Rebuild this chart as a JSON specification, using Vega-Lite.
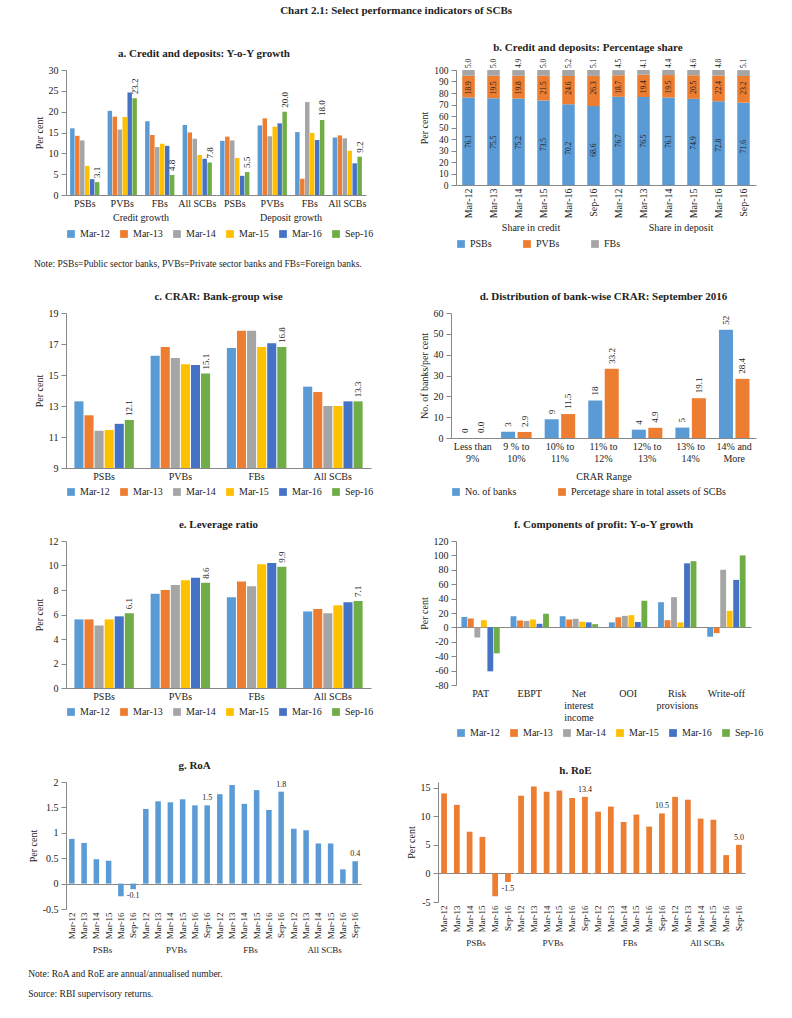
{
  "$schema": "https://vega.github.io/schema/vega-lite/v6.json",
  "padding": {"left": 28, "top": 4, "right": 5, "bottom": 5},
  "background": "white",
  "title": {"text": "Chart 2.1: Select performance indicators of SCBs", "anchor": "middle", "fontSize": 11, "offset": 26},
  "spacing": 22,
  "resolve": {"scale": {"color": "independent", "x": "independent", "y": "independent", "xOffset": "independent"}, "legend": {"color": "independent"}},
  "config": {
    "locale": {"number": {"decimal": ".", "thousands": ",", "grouping": [3], "currency": ["$", ""], "minus": "-"}},
    "font": "Liberation Serif",
    "view": {"stroke": null},
    "axis": {"labelFontSize": 10, "titleFontSize": 10, "titleFontWeight": "normal", "grid": false, "domainColor": "#888888", "tickColor": "#888888", "labelColor": "#222222", "titleColor": "#222222", "labelPadding": 3},
    "legend": {"orient": "bottom", "direction": "horizontal", "title": null, "labelFontSize": 10, "symbolType": "square", "symbolSize": 60, "symbolStrokeWidth": 0, "columnPadding": 9, "padding": 0, "offset": 6, "labelColor": "#222222"},
    "title": {"fontSize": 11, "fontWeight": "bold", "color": "#222222", "offset": 6, "anchor": "middle"},
    "header": {"labelFontSize": 10, "labelColor": "#222222", "labelPadding": 3}
  },
  "vconcat": [
    {
      "title": {"text": "Note: PSBs=Public sector banks, PVBs=Private sector banks and FBs=Foreign banks.", "orient": "bottom", "anchor": "start", "fontSize": 9.5, "fontWeight": "normal", "offset": 10},
      "spacing": 45,
      "resolve": {"scale": {"color": "independent", "x": "independent", "y": "independent", "xOffset": "independent"}, "legend": {"color": "independent"}},
      "hconcat": [
        {
          "title": "a. Credit and deposits: Y-o-Y growth",
          "data": {"name": "growth"},
          "facet": {"column": {"field": "group", "type": "nominal", "sort": ["Credit growth", "Deposit growth"], "header": {"title": null, "labelOrient": "bottom", "labelPadding": 5}}},
          "spacing": {"column": 0},
          "spec": {
            "width": 150,
            "height": 125,
            "encoding": {
              "x": {"field": "bank", "type": "nominal", "sort": ["PSBs", "PVBs", "FBs", "All SCBs"], "scale": {"paddingInner": 0.22, "paddingOuter": 0.11}, "axis": {"title": null, "labelAngle": 0, "ticks": false}},
              "xOffset": {"field": "period", "type": "nominal", "sort": ["Mar-12", "Mar-13", "Mar-14", "Mar-15", "Mar-16", "Sep-16"], "scale": {"domain": ["Mar-12", "Mar-13", "Mar-14", "Mar-15", "Mar-16", "Sep-16"], "paddingInner": 0.1}},
              "y": {"field": "value", "type": "quantitative", "scale": {"domain": [0, 30], "nice": false}, "axis": {"title": "Per cent", "values": [0, 5, 10, 15, 20, 25, 30]}}
            },
            "layer": [
              {"mark": "bar", "encoding": {"color": {"field": "period", "type": "nominal", "sort": ["Mar-12", "Mar-13", "Mar-14", "Mar-15", "Mar-16", "Sep-16"], "scale": {"domain": ["Mar-12", "Mar-13", "Mar-14", "Mar-15", "Mar-16", "Sep-16"], "range": ["#5B9BD5", "#ED7D31", "#A5A5A5", "#FFC000", "#4472C4", "#70AD47"]}}}},
              {"transform": [{"filter": "datum.period == 'Sep-16'"}], "mark": {"type": "text", "angle": 270, "align": "left", "baseline": "middle", "dx": 4, "fontSize": 9, "color": "#222222"}, "encoding": {"text": {"field": "value", "type": "quantitative", "format": ".1f"}}}
            ]
          }
        },
        {
          "title": "b. Credit and deposits: Percentage share",
          "data": {"name": "share"},
          "transform": [{"stack": "value", "groupby": ["group", "period"], "as": ["v0", "v1"]}],
          "facet": {"column": {"field": "group", "type": "nominal", "sort": ["Share in credit", "Share in deposit"], "header": {"title": null, "labelOrient": "bottom", "labelPadding": 5}}},
          "spacing": {"column": 0},
          "spec": {
            "width": 150,
            "height": 115,
            "encoding": {
              "x": {"field": "period", "type": "nominal", "sort": ["Mar-12", "Mar-13", "Mar-14", "Mar-15", "Mar-16", "Sep-16"], "scale": {"paddingInner": 0.5, "paddingOuter": 0.25}, "axis": {"title": null, "labelAngle": -90, "ticks": false}}
            },
            "layer": [
              {"mark": "bar", "encoding": {
                "y": {"field": "v0", "type": "quantitative", "scale": {"domain": [0, 100], "nice": false}, "axis": {"title": "Per cent", "values": [0, 10, 20, 30, 40, 50, 60, 70, 80, 90, 100], "labelOverlap": false, "labelFontSize": 9.5}},
                "y2": {"field": "v1"},
                "color": {"field": "bank", "type": "nominal", "sort": ["PSBs", "PVBs", "FBs"], "scale": {"domain": ["PSBs", "PVBs", "FBs"], "range": ["#5B9BD5", "#ED7D31", "#A5A5A5"]}, "legend": {"columnPadding": 30}}
              }},
              {"transform": [{"filter": "datum.bank == 'PSBs'"}], "mark": {"type": "text", "angle": 270, "align": "center", "baseline": "middle", "dx": -44, "fontSize": 7.5, "color": "#222222"}, "encoding": {"y": {"field": "v1", "type": "quantitative", "axis": {"title": "Per cent", "values": [0, 10, 20, 30, 40, 50, 60, 70, 80, 90, 100], "labelOverlap": false, "labelFontSize": 9.5}}, "text": {"field": "value", "type": "quantitative", "format": ".1f"}}},
              {"transform": [{"filter": "datum.bank == 'PVBs'"}], "mark": {"type": "text", "angle": 270, "align": "center", "baseline": "middle", "dx": -12, "fontSize": 7.5, "color": "#222222"}, "encoding": {"y": {"field": "v1", "type": "quantitative", "axis": {"title": "Per cent", "values": [0, 10, 20, 30, 40, 50, 60, 70, 80, 90, 100], "labelOverlap": false, "labelFontSize": 9.5}}, "text": {"field": "value", "type": "quantitative", "format": ".1f"}}},
              {"transform": [{"filter": "datum.bank == 'FBs'"}], "mark": {"type": "text", "angle": 270, "align": "left", "baseline": "middle", "dx": 2, "fontSize": 7.5, "color": "#222222"}, "encoding": {"y": {"field": "v1", "type": "quantitative", "axis": {"title": "Per cent", "values": [0, 10, 20, 30, 40, 50, 60, 70, 80, 90, 100], "labelOverlap": false, "labelFontSize": 9.5}}, "text": {"field": "value", "type": "quantitative", "format": ".1f"}}}
            ]
          }
        }
      ]
    },
    {
      "spacing": 45,
      "resolve": {"scale": {"color": "independent", "x": "independent", "y": "independent", "xOffset": "independent"}, "legend": {"color": "independent"}},
      "hconcat": [
        {
          "title": "c. CRAR: Bank-group wise",
          "data": {"name": "crar"},
          "width": 305,
          "height": 155,
          "encoding": {
            "x": {"field": "bank", "type": "nominal", "sort": ["PSBs", "PVBs", "FBs", "All SCBs"], "scale": {"paddingInner": 0.22, "paddingOuter": 0.11}, "axis": {"title": null, "labelAngle": 0, "ticks": false}},
            "xOffset": {"field": "period", "type": "nominal", "sort": ["Mar-12", "Mar-13", "Mar-14", "Mar-15", "Mar-16", "Sep-16"], "scale": {"domain": ["Mar-12", "Mar-13", "Mar-14", "Mar-15", "Mar-16", "Sep-16"], "paddingInner": 0.1}},
            "y": {"field": "value", "type": "quantitative", "scale": {"domain": [9, 19], "nice": false, "zero": false}, "axis": {"title": "Per cent", "values": [9, 11, 13, 15, 17, 19]}}
          },
          "layer": [
            {"mark": {"type": "bar", "clip": true}, "encoding": {"y2": {"datum": 9}, "color": {"field": "period", "type": "nominal", "sort": ["Mar-12", "Mar-13", "Mar-14", "Mar-15", "Mar-16", "Sep-16"], "scale": {"domain": ["Mar-12", "Mar-13", "Mar-14", "Mar-15", "Mar-16", "Sep-16"], "range": ["#5B9BD5", "#ED7D31", "#A5A5A5", "#FFC000", "#4472C4", "#70AD47"]}}}},
            {"transform": [{"filter": "datum.period == 'Sep-16'"}], "mark": {"type": "text", "angle": 270, "align": "left", "baseline": "middle", "dx": 4, "fontSize": 9, "color": "#222222"}, "encoding": {"text": {"field": "value", "type": "quantitative", "format": ".1f"}}}
          ]
        },
        {
          "title": "d. Distribution of bank-wise CRAR: September 2016",
          "data": {"name": "dist"},
          "width": 305,
          "height": 125,
          "encoding": {
            "x": {"field": "range", "type": "nominal", "sort": ["Less than 9%", "9 % to 10%", "10% to 11%", "11% to 12%", "12% to 13%", "13% to 14%", "14% and More"], "scale": {"paddingInner": 0.3, "paddingOuter": 0.15}, "axis": {"title": "CRAR Range", "titlePadding": 8, "labelAngle": 0, "ticks": false, "labelExpr": "[slice(datum.label, 0, lastindexof(datum.label, ' ')), slice(datum.label, lastindexof(datum.label, ' ') + 1)]", "labelLineHeight": 12}},
            "xOffset": {"field": "series", "type": "nominal", "sort": ["No. of banks", "Percetage share in total assets of SCBs"], "scale": {"domain": ["No. of banks", "Percetage share in total assets of SCBs"], "paddingInner": 0.15}},
            "y": {"field": "value", "type": "quantitative", "scale": {"domain": [0, 60], "nice": false}, "axis": {"title": "No. of banks/per cent", "values": [0, 10, 20, 30, 40, 50, 60]}}
          },
          "layer": [
            {"mark": "bar", "encoding": {"color": {"field": "series", "type": "nominal", "sort": ["No. of banks", "Percetage share in total assets of SCBs"], "scale": {"domain": ["No. of banks", "Percetage share in total assets of SCBs"], "range": ["#5B9BD5", "#ED7D31"]}, "legend": {"columnPadding": 40}}}},
            {"transform": [{"filter": "datum.series == 'No. of banks'"}], "mark": {"type": "text", "angle": 270, "align": "left", "baseline": "middle", "dx": 5, "fontSize": 9, "color": "#222222"}, "encoding": {"text": {"field": "value", "type": "quantitative", "format": "d"}}},
            {"transform": [{"filter": "datum.series != 'No. of banks'"}], "mark": {"type": "text", "angle": 270, "align": "left", "baseline": "middle", "dx": 5, "fontSize": 9, "color": "#222222"}, "encoding": {"text": {"field": "value", "type": "quantitative", "format": ".1f"}}}
          ]
        }
      ]
    },
    {
      "spacing": 45,
      "resolve": {"scale": {"color": "independent", "x": "independent", "y": "independent", "xOffset": "independent"}, "legend": {"color": "independent"}},
      "hconcat": [
        {
          "title": "e. Leverage ratio",
          "data": {"name": "lev"},
          "width": 305,
          "height": 147,
          "encoding": {
            "x": {"field": "bank", "type": "nominal", "sort": ["PSBs", "PVBs", "FBs", "All SCBs"], "scale": {"paddingInner": 0.22, "paddingOuter": 0.11}, "axis": {"title": null, "labelAngle": 0, "ticks": false}},
            "xOffset": {"field": "period", "type": "nominal", "sort": ["Mar-12", "Mar-13", "Mar-14", "Mar-15", "Mar-16", "Sep-16"], "scale": {"domain": ["Mar-12", "Mar-13", "Mar-14", "Mar-15", "Mar-16", "Sep-16"], "paddingInner": 0.1}},
            "y": {"field": "value", "type": "quantitative", "scale": {"domain": [0, 12], "nice": false}, "axis": {"title": "Per cent", "values": [0, 2, 4, 6, 8, 10, 12]}}
          },
          "layer": [
            {"mark": "bar", "encoding": {"color": {"field": "period", "type": "nominal", "sort": ["Mar-12", "Mar-13", "Mar-14", "Mar-15", "Mar-16", "Sep-16"], "scale": {"domain": ["Mar-12", "Mar-13", "Mar-14", "Mar-15", "Mar-16", "Sep-16"], "range": ["#5B9BD5", "#ED7D31", "#A5A5A5", "#FFC000", "#4472C4", "#70AD47"]}}}},
            {"transform": [{"filter": "datum.period == 'Sep-16'"}], "mark": {"type": "text", "angle": 270, "align": "left", "baseline": "middle", "dx": 4, "fontSize": 9, "color": "#222222"}, "encoding": {"text": {"field": "value", "type": "quantitative", "format": ".1f"}}}
          ]
        },
        {
          "title": "f. Components of profit: Y-o-Y growth",
          "data": {"name": "profit"},
          "width": 295,
          "height": 144,
          "encoding": {
            "x": {"field": "component", "type": "nominal", "sort": ["PAT", "EBPT", "Net interest income", "OOI", "Risk provisions", "Write-off"], "scale": {"paddingInner": 0.22, "paddingOuter": 0.11}, "axis": {"title": null, "labelAngle": 0, "ticks": false, "domain": false, "labelExpr": "split(datum.label, ' ')", "labelLineHeight": 12}},
            "xOffset": {"field": "period", "type": "nominal", "sort": ["Mar-12", "Mar-13", "Mar-14", "Mar-15", "Mar-16", "Sep-16"], "scale": {"domain": ["Mar-12", "Mar-13", "Mar-14", "Mar-15", "Mar-16", "Sep-16"], "paddingInner": 0.1}},
            "y": {"field": "value", "type": "quantitative", "scale": {"domain": [-80, 120], "nice": false}, "axis": {"title": "Per cent", "values": [-80, -60, -40, -20, 0, 20, 40, 60, 80, 100, 120], "labelExpr": "datum.value < 0 ? '-' + format(-datum.value, '~g') : format(datum.value, '~g')", "grid": true, "gridColor": "#888888", "gridOpacity": {"condition": {"test": "datum.value === 0", "value": 1}, "value": 0}}}
          },
          "layer": [
            {"mark": "bar", "encoding": {"color": {"field": "period", "type": "nominal", "sort": ["Mar-12", "Mar-13", "Mar-14", "Mar-15", "Mar-16", "Sep-16"], "scale": {"domain": ["Mar-12", "Mar-13", "Mar-14", "Mar-15", "Mar-16", "Sep-16"], "range": ["#5B9BD5", "#ED7D31", "#A5A5A5", "#FFC000", "#4472C4", "#70AD47"]}}}}
          ]
        }
      ]
    },
    {
      "title": {"text": ["Note: RoA and RoE are annual/annualised number.", "Source: RBI supervisory returns."], "orient": "bottom", "anchor": "start", "fontSize": 9.5, "fontWeight": "normal", "offset": 14, "lineHeight": 20},
      "spacing": 45,
      "resolve": {"scale": {"color": "independent", "x": "independent", "y": "independent", "xOffset": "independent"}, "legend": {"color": "independent"}},
      "hconcat": [
        {
          "title": "g. RoA",
          "data": {"name": "roa"},
          "facet": {"column": {"field": "group", "type": "nominal", "sort": ["PSBs", "PVBs", "FBs", "All SCBs"], "header": {"title": null, "labelOrient": "bottom", "labelFontSize": 9, "labelPadding": 7}}},
          "spacing": {"column": 0},
          "spec": {
            "width": 73,
            "height": 127,
            "encoding": {
              "x": {"field": "period", "type": "nominal", "sort": ["Mar-12", "Mar-13", "Mar-14", "Mar-15", "Mar-16", "Sep-16"], "scale": {"paddingInner": 0.55, "paddingOuter": 0.25}, "axis": {"title": null, "labelAngle": -90, "ticks": false, "domain": false, "labelFontSize": 9}},
              "y": {"field": "value", "type": "quantitative", "scale": {"domain": [-0.5, 2], "nice": false}, "axis": {"title": "Per cent", "values": [-0.5, 0, 0.5, 1, 1.5, 2], "labelExpr": "datum.value < 0 ? '-' + format(-datum.value, '~g') : format(datum.value, '~g')", "grid": true, "gridColor": "#888888", "gridOpacity": {"condition": {"test": "datum.value === 0", "value": 1}, "value": 0}}}
            },
            "layer": [
              {"mark": {"type": "bar", "color": "#5B9BD5"}},
              {"transform": [{"filter": "datum.period == 'Sep-16' && datum.value >= 0"}], "mark": {"type": "text", "align": "center", "baseline": "bottom", "dy": -3, "fontSize": 8, "color": "#222222"}, "encoding": {"text": {"field": "value", "type": "quantitative", "format": ".1f"}}},
              {"transform": [{"filter": "datum.period == 'Sep-16' && datum.value < 0"}], "mark": {"type": "text", "align": "center", "baseline": "top", "dy": 3, "fontSize": 8, "color": "#222222"}, "encoding": {"text": {"field": "value", "type": "quantitative", "format": ".1f"}}}
            ]
          }
        },
        {
          "title": "h. RoE",
          "data": {"name": "roe"},
          "facet": {"column": {"field": "group", "type": "nominal", "sort": ["PSBs", "PVBs", "FBs", "All SCBs"], "header": {"title": null, "labelOrient": "bottom", "labelFontSize": 9, "labelPadding": 7}}},
          "spacing": {"column": 0},
          "spec": {
            "width": 76,
            "height": 120,
            "encoding": {
              "x": {"field": "period", "type": "nominal", "sort": ["Mar-12", "Mar-13", "Mar-14", "Mar-15", "Mar-16", "Sep-16"], "scale": {"paddingInner": 0.55, "paddingOuter": 0.25}, "axis": {"title": null, "labelAngle": -90, "ticks": false, "domain": false, "labelFontSize": 9}},
              "y": {"field": "value", "type": "quantitative", "scale": {"domain": [-5, 16], "nice": false}, "axis": {"title": "Per cent", "values": [-5, 0, 5, 10, 15], "labelExpr": "datum.value < 0 ? '-' + format(-datum.value, '~g') : format(datum.value, '~g')", "grid": true, "gridColor": "#888888", "gridOpacity": {"condition": {"test": "datum.value === 0", "value": 1}, "value": 0}}}
            },
            "layer": [
              {"mark": {"type": "bar", "color": "#ED7D31"}},
              {"transform": [{"filter": "datum.period == 'Sep-16' && datum.value >= 0"}], "mark": {"type": "text", "align": "center", "baseline": "bottom", "dy": -3, "fontSize": 8, "color": "#222222"}, "encoding": {"text": {"field": "value", "type": "quantitative", "format": ".1f"}}},
              {"transform": [{"filter": "datum.period == 'Sep-16' && datum.value < 0"}], "mark": {"type": "text", "align": "center", "baseline": "top", "dy": 3, "fontSize": 8, "color": "#222222"}, "encoding": {"text": {"field": "value", "type": "quantitative", "format": ".1f"}}}
            ]
          }
        }
      ]
    }
  ],
  "datasets": {
    "growth": [
      {"group": "Credit growth", "bank": "PSBs", "period": "Mar-12", "value": 16.0},
      {"group": "Credit growth", "bank": "PSBs", "period": "Mar-13", "value": 14.2},
      {"group": "Credit growth", "bank": "PSBs", "period": "Mar-14", "value": 13.1},
      {"group": "Credit growth", "bank": "PSBs", "period": "Mar-15", "value": 7.0},
      {"group": "Credit growth", "bank": "PSBs", "period": "Mar-16", "value": 3.8},
      {"group": "Credit growth", "bank": "PSBs", "period": "Sep-16", "value": 3.1},
      {"group": "Credit growth", "bank": "PVBs", "period": "Mar-12", "value": 20.2},
      {"group": "Credit growth", "bank": "PVBs", "period": "Mar-13", "value": 18.8},
      {"group": "Credit growth", "bank": "PVBs", "period": "Mar-14", "value": 15.7},
      {"group": "Credit growth", "bank": "PVBs", "period": "Mar-15", "value": 18.7},
      {"group": "Credit growth", "bank": "PVBs", "period": "Mar-16", "value": 24.6},
      {"group": "Credit growth", "bank": "PVBs", "period": "Sep-16", "value": 23.2},
      {"group": "Credit growth", "bank": "FBs", "period": "Mar-12", "value": 17.7},
      {"group": "Credit growth", "bank": "FBs", "period": "Mar-13", "value": 14.4},
      {"group": "Credit growth", "bank": "FBs", "period": "Mar-14", "value": 11.5},
      {"group": "Credit growth", "bank": "FBs", "period": "Mar-15", "value": 12.3},
      {"group": "Credit growth", "bank": "FBs", "period": "Mar-16", "value": 11.8},
      {"group": "Credit growth", "bank": "FBs", "period": "Sep-16", "value": 4.8},
      {"group": "Credit growth", "bank": "All SCBs", "period": "Mar-12", "value": 16.8},
      {"group": "Credit growth", "bank": "All SCBs", "period": "Mar-13", "value": 15.0},
      {"group": "Credit growth", "bank": "All SCBs", "period": "Mar-14", "value": 13.5},
      {"group": "Credit growth", "bank": "All SCBs", "period": "Mar-15", "value": 9.6},
      {"group": "Credit growth", "bank": "All SCBs", "period": "Mar-16", "value": 8.7},
      {"group": "Credit growth", "bank": "All SCBs", "period": "Sep-16", "value": 7.8},
      {"group": "Deposit growth", "bank": "PSBs", "period": "Mar-12", "value": 13.0},
      {"group": "Deposit growth", "bank": "PSBs", "period": "Mar-13", "value": 14.0},
      {"group": "Deposit growth", "bank": "PSBs", "period": "Mar-14", "value": 13.1},
      {"group": "Deposit growth", "bank": "PSBs", "period": "Mar-15", "value": 8.9},
      {"group": "Deposit growth", "bank": "PSBs", "period": "Mar-16", "value": 4.6},
      {"group": "Deposit growth", "bank": "PSBs", "period": "Sep-16", "value": 5.5},
      {"group": "Deposit growth", "bank": "PVBs", "period": "Mar-12", "value": 16.7},
      {"group": "Deposit growth", "bank": "PVBs", "period": "Mar-13", "value": 18.4},
      {"group": "Deposit growth", "bank": "PVBs", "period": "Mar-14", "value": 14.1},
      {"group": "Deposit growth", "bank": "PVBs", "period": "Mar-15", "value": 16.4},
      {"group": "Deposit growth", "bank": "PVBs", "period": "Mar-16", "value": 17.2},
      {"group": "Deposit growth", "bank": "PVBs", "period": "Sep-16", "value": 20.0},
      {"group": "Deposit growth", "bank": "FBs", "period": "Mar-12", "value": 15.1},
      {"group": "Deposit growth", "bank": "FBs", "period": "Mar-13", "value": 3.9},
      {"group": "Deposit growth", "bank": "FBs", "period": "Mar-14", "value": 22.3},
      {"group": "Deposit growth", "bank": "FBs", "period": "Mar-15", "value": 14.9},
      {"group": "Deposit growth", "bank": "FBs", "period": "Mar-16", "value": 13.2},
      {"group": "Deposit growth", "bank": "FBs", "period": "Sep-16", "value": 18.0},
      {"group": "Deposit growth", "bank": "All SCBs", "period": "Mar-12", "value": 13.8},
      {"group": "Deposit growth", "bank": "All SCBs", "period": "Mar-13", "value": 14.3},
      {"group": "Deposit growth", "bank": "All SCBs", "period": "Mar-14", "value": 13.6},
      {"group": "Deposit growth", "bank": "All SCBs", "period": "Mar-15", "value": 10.6},
      {"group": "Deposit growth", "bank": "All SCBs", "period": "Mar-16", "value": 7.6},
      {"group": "Deposit growth", "bank": "All SCBs", "period": "Sep-16", "value": 9.2}
    ],
    "share": [
      {"group": "Share in credit", "period": "Mar-12", "bank": "PSBs", "value": 76.1},
      {"group": "Share in credit", "period": "Mar-12", "bank": "PVBs", "value": 18.9},
      {"group": "Share in credit", "period": "Mar-12", "bank": "FBs", "value": 5.0},
      {"group": "Share in credit", "period": "Mar-13", "bank": "PSBs", "value": 75.5},
      {"group": "Share in credit", "period": "Mar-13", "bank": "PVBs", "value": 19.5},
      {"group": "Share in credit", "period": "Mar-13", "bank": "FBs", "value": 5.0},
      {"group": "Share in credit", "period": "Mar-14", "bank": "PSBs", "value": 75.2},
      {"group": "Share in credit", "period": "Mar-14", "bank": "PVBs", "value": 19.8},
      {"group": "Share in credit", "period": "Mar-14", "bank": "FBs", "value": 4.9},
      {"group": "Share in credit", "period": "Mar-15", "bank": "PSBs", "value": 73.5},
      {"group": "Share in credit", "period": "Mar-15", "bank": "PVBs", "value": 21.5},
      {"group": "Share in credit", "period": "Mar-15", "bank": "FBs", "value": 5.0},
      {"group": "Share in credit", "period": "Mar-16", "bank": "PSBs", "value": 70.2},
      {"group": "Share in credit", "period": "Mar-16", "bank": "PVBs", "value": 24.6},
      {"group": "Share in credit", "period": "Mar-16", "bank": "FBs", "value": 5.2},
      {"group": "Share in credit", "period": "Sep-16", "bank": "PSBs", "value": 68.6},
      {"group": "Share in credit", "period": "Sep-16", "bank": "PVBs", "value": 26.3},
      {"group": "Share in credit", "period": "Sep-16", "bank": "FBs", "value": 5.1},
      {"group": "Share in deposit", "period": "Mar-12", "bank": "PSBs", "value": 76.7},
      {"group": "Share in deposit", "period": "Mar-12", "bank": "PVBs", "value": 18.7},
      {"group": "Share in deposit", "period": "Mar-12", "bank": "FBs", "value": 4.5},
      {"group": "Share in deposit", "period": "Mar-13", "bank": "PSBs", "value": 76.5},
      {"group": "Share in deposit", "period": "Mar-13", "bank": "PVBs", "value": 19.4},
      {"group": "Share in deposit", "period": "Mar-13", "bank": "FBs", "value": 4.1},
      {"group": "Share in deposit", "period": "Mar-14", "bank": "PSBs", "value": 76.1},
      {"group": "Share in deposit", "period": "Mar-14", "bank": "PVBs", "value": 19.5},
      {"group": "Share in deposit", "period": "Mar-14", "bank": "FBs", "value": 4.4},
      {"group": "Share in deposit", "period": "Mar-15", "bank": "PSBs", "value": 74.9},
      {"group": "Share in deposit", "period": "Mar-15", "bank": "PVBs", "value": 20.5},
      {"group": "Share in deposit", "period": "Mar-15", "bank": "FBs", "value": 4.6},
      {"group": "Share in deposit", "period": "Mar-16", "bank": "PSBs", "value": 72.8},
      {"group": "Share in deposit", "period": "Mar-16", "bank": "PVBs", "value": 22.4},
      {"group": "Share in deposit", "period": "Mar-16", "bank": "FBs", "value": 4.8},
      {"group": "Share in deposit", "period": "Sep-16", "bank": "PSBs", "value": 71.6},
      {"group": "Share in deposit", "period": "Sep-16", "bank": "PVBs", "value": 23.2},
      {"group": "Share in deposit", "period": "Sep-16", "bank": "FBs", "value": 5.1}
    ],
    "crar": [
      {"bank": "PSBs", "period": "Mar-12", "value": 13.3},
      {"bank": "PSBs", "period": "Mar-13", "value": 12.4},
      {"bank": "PSBs", "period": "Mar-14", "value": 11.4},
      {"bank": "PSBs", "period": "Mar-15", "value": 11.45},
      {"bank": "PSBs", "period": "Mar-16", "value": 11.85},
      {"bank": "PSBs", "period": "Sep-16", "value": 12.1},
      {"bank": "PVBs", "period": "Mar-12", "value": 16.25},
      {"bank": "PVBs", "period": "Mar-13", "value": 16.8},
      {"bank": "PVBs", "period": "Mar-14", "value": 16.1},
      {"bank": "PVBs", "period": "Mar-15", "value": 15.7},
      {"bank": "PVBs", "period": "Mar-16", "value": 15.65},
      {"bank": "PVBs", "period": "Sep-16", "value": 15.1},
      {"bank": "FBs", "period": "Mar-12", "value": 16.75},
      {"bank": "FBs", "period": "Mar-13", "value": 17.85},
      {"bank": "FBs", "period": "Mar-14", "value": 17.85},
      {"bank": "FBs", "period": "Mar-15", "value": 16.8},
      {"bank": "FBs", "period": "Mar-16", "value": 17.05},
      {"bank": "FBs", "period": "Sep-16", "value": 16.8},
      {"bank": "All SCBs", "period": "Mar-12", "value": 14.25},
      {"bank": "All SCBs", "period": "Mar-13", "value": 13.9},
      {"bank": "All SCBs", "period": "Mar-14", "value": 13.0},
      {"bank": "All SCBs", "period": "Mar-15", "value": 13.0},
      {"bank": "All SCBs", "period": "Mar-16", "value": 13.3},
      {"bank": "All SCBs", "period": "Sep-16", "value": 13.3}
    ],
    "dist": [
      {"range": "Less than 9%", "series": "No. of banks", "value": 0},
      {"range": "Less than 9%", "series": "Percetage share in total assets of SCBs", "value": 0.0},
      {"range": "9 % to 10%", "series": "No. of banks", "value": 3},
      {"range": "9 % to 10%", "series": "Percetage share in total assets of SCBs", "value": 2.9},
      {"range": "10% to 11%", "series": "No. of banks", "value": 9},
      {"range": "10% to 11%", "series": "Percetage share in total assets of SCBs", "value": 11.5},
      {"range": "11% to 12%", "series": "No. of banks", "value": 18},
      {"range": "11% to 12%", "series": "Percetage share in total assets of SCBs", "value": 33.2},
      {"range": "12% to 13%", "series": "No. of banks", "value": 4},
      {"range": "12% to 13%", "series": "Percetage share in total assets of SCBs", "value": 4.9},
      {"range": "13% to 14%", "series": "No. of banks", "value": 5},
      {"range": "13% to 14%", "series": "Percetage share in total assets of SCBs", "value": 19.1},
      {"range": "14% and More", "series": "No. of banks", "value": 52},
      {"range": "14% and More", "series": "Percetage share in total assets of SCBs", "value": 28.4}
    ],
    "lev": [
      {"bank": "PSBs", "period": "Mar-12", "value": 5.6},
      {"bank": "PSBs", "period": "Mar-13", "value": 5.6},
      {"bank": "PSBs", "period": "Mar-14", "value": 5.1},
      {"bank": "PSBs", "period": "Mar-15", "value": 5.6},
      {"bank": "PSBs", "period": "Mar-16", "value": 5.85},
      {"bank": "PSBs", "period": "Sep-16", "value": 6.1},
      {"bank": "PVBs", "period": "Mar-12", "value": 7.7},
      {"bank": "PVBs", "period": "Mar-13", "value": 8.0},
      {"bank": "PVBs", "period": "Mar-14", "value": 8.4},
      {"bank": "PVBs", "period": "Mar-15", "value": 8.8},
      {"bank": "PVBs", "period": "Mar-16", "value": 9.0},
      {"bank": "PVBs", "period": "Sep-16", "value": 8.6},
      {"bank": "FBs", "period": "Mar-12", "value": 7.4},
      {"bank": "FBs", "period": "Mar-13", "value": 8.7},
      {"bank": "FBs", "period": "Mar-14", "value": 8.3},
      {"bank": "FBs", "period": "Mar-15", "value": 10.1},
      {"bank": "FBs", "period": "Mar-16", "value": 10.2},
      {"bank": "FBs", "period": "Sep-16", "value": 9.9},
      {"bank": "All SCBs", "period": "Mar-12", "value": 6.25},
      {"bank": "All SCBs", "period": "Mar-13", "value": 6.45},
      {"bank": "All SCBs", "period": "Mar-14", "value": 6.1},
      {"bank": "All SCBs", "period": "Mar-15", "value": 6.75},
      {"bank": "All SCBs", "period": "Mar-16", "value": 7.0},
      {"bank": "All SCBs", "period": "Sep-16", "value": 7.1}
    ],
    "profit": [
      {"component": "PAT", "period": "Mar-12", "value": 14.5},
      {"component": "PAT", "period": "Mar-13", "value": 12.5},
      {"component": "PAT", "period": "Mar-14", "value": -14},
      {"component": "PAT", "period": "Mar-15", "value": 10},
      {"component": "PAT", "period": "Mar-16", "value": -61},
      {"component": "PAT", "period": "Sep-16", "value": -36},
      {"component": "EBPT", "period": "Mar-12", "value": 15.5},
      {"component": "EBPT", "period": "Mar-13", "value": 9.5},
      {"component": "EBPT", "period": "Mar-14", "value": 9},
      {"component": "EBPT", "period": "Mar-15", "value": 11},
      {"component": "EBPT", "period": "Mar-16", "value": 5},
      {"component": "EBPT", "period": "Sep-16", "value": 19},
      {"component": "Net interest income", "period": "Mar-12", "value": 15.5},
      {"component": "Net interest income", "period": "Mar-13", "value": 11},
      {"component": "Net interest income", "period": "Mar-14", "value": 12},
      {"component": "Net interest income", "period": "Mar-15", "value": 8},
      {"component": "Net interest income", "period": "Mar-16", "value": 7},
      {"component": "Net interest income", "period": "Sep-16", "value": 4.5},
      {"component": "OOI", "period": "Mar-12", "value": 7},
      {"component": "OOI", "period": "Mar-13", "value": 14},
      {"component": "OOI", "period": "Mar-14", "value": 16},
      {"component": "OOI", "period": "Mar-15", "value": 17},
      {"component": "OOI", "period": "Mar-16", "value": 7.5},
      {"component": "OOI", "period": "Sep-16", "value": 37},
      {"component": "Risk provisions", "period": "Mar-12", "value": 35},
      {"component": "Risk provisions", "period": "Mar-13", "value": 10},
      {"component": "Risk provisions", "period": "Mar-14", "value": 42},
      {"component": "Risk provisions", "period": "Mar-15", "value": 7},
      {"component": "Risk provisions", "period": "Mar-16", "value": 89},
      {"component": "Risk provisions", "period": "Sep-16", "value": 92},
      {"component": "Write-off", "period": "Mar-12", "value": -13},
      {"component": "Write-off", "period": "Mar-13", "value": -8},
      {"component": "Write-off", "period": "Mar-14", "value": 80},
      {"component": "Write-off", "period": "Mar-15", "value": 23},
      {"component": "Write-off", "period": "Mar-16", "value": 66},
      {"component": "Write-off", "period": "Sep-16", "value": 100}
    ],
    "roa": [
      {"group": "PSBs", "period": "Mar-12", "value": 0.88},
      {"group": "PSBs", "period": "Mar-13", "value": 0.80},
      {"group": "PSBs", "period": "Mar-14", "value": 0.48},
      {"group": "PSBs", "period": "Mar-15", "value": 0.45},
      {"group": "PSBs", "period": "Mar-16", "value": -0.25},
      {"group": "PSBs", "period": "Sep-16", "value": -0.11},
      {"group": "PVBs", "period": "Mar-12", "value": 1.47},
      {"group": "PVBs", "period": "Mar-13", "value": 1.62},
      {"group": "PVBs", "period": "Mar-14", "value": 1.60},
      {"group": "PVBs", "period": "Mar-15", "value": 1.66},
      {"group": "PVBs", "period": "Mar-16", "value": 1.54},
      {"group": "PVBs", "period": "Sep-16", "value": 1.54},
      {"group": "FBs", "period": "Mar-12", "value": 1.76},
      {"group": "FBs", "period": "Mar-13", "value": 1.94},
      {"group": "FBs", "period": "Mar-14", "value": 1.57},
      {"group": "FBs", "period": "Mar-15", "value": 1.84},
      {"group": "FBs", "period": "Mar-16", "value": 1.45},
      {"group": "FBs", "period": "Sep-16", "value": 1.81},
      {"group": "All SCBs", "period": "Mar-12", "value": 1.08},
      {"group": "All SCBs", "period": "Mar-13", "value": 1.05},
      {"group": "All SCBs", "period": "Mar-14", "value": 0.79},
      {"group": "All SCBs", "period": "Mar-15", "value": 0.79},
      {"group": "All SCBs", "period": "Mar-16", "value": 0.28},
      {"group": "All SCBs", "period": "Sep-16", "value": 0.44}
    ],
    "roe": [
      {"group": "PSBs", "period": "Mar-12", "value": 14.0},
      {"group": "PSBs", "period": "Mar-13", "value": 12.0},
      {"group": "PSBs", "period": "Mar-14", "value": 7.3},
      {"group": "PSBs", "period": "Mar-15", "value": 6.4},
      {"group": "PSBs", "period": "Mar-16", "value": -4.0},
      {"group": "PSBs", "period": "Sep-16", "value": -1.5},
      {"group": "PVBs", "period": "Mar-12", "value": 13.6},
      {"group": "PVBs", "period": "Mar-13", "value": 15.2},
      {"group": "PVBs", "period": "Mar-14", "value": 14.3},
      {"group": "PVBs", "period": "Mar-15", "value": 14.5},
      {"group": "PVBs", "period": "Mar-16", "value": 13.2},
      {"group": "PVBs", "period": "Sep-16", "value": 13.4},
      {"group": "FBs", "period": "Mar-12", "value": 10.8},
      {"group": "FBs", "period": "Mar-13", "value": 11.7},
      {"group": "FBs", "period": "Mar-14", "value": 9.0},
      {"group": "FBs", "period": "Mar-15", "value": 10.3},
      {"group": "FBs", "period": "Mar-16", "value": 8.2},
      {"group": "FBs", "period": "Sep-16", "value": 10.5},
      {"group": "All SCBs", "period": "Mar-12", "value": 13.4},
      {"group": "All SCBs", "period": "Mar-13", "value": 12.9},
      {"group": "All SCBs", "period": "Mar-14", "value": 9.6},
      {"group": "All SCBs", "period": "Mar-15", "value": 9.4},
      {"group": "All SCBs", "period": "Mar-16", "value": 3.2},
      {"group": "All SCBs", "period": "Sep-16", "value": 5.0}
    ]
  }
}
